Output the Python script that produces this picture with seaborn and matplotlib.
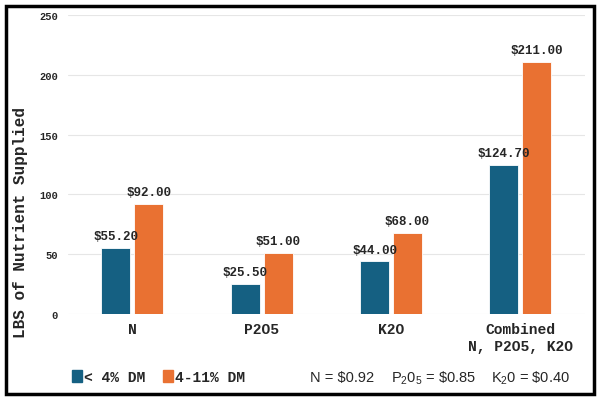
import pandas as pd
import matplotlib
matplotlib.use("Agg")
import matplotlib.pyplot as plt
import matplotlib.patches as mpatches
import seaborn as sns

# data
categories = ["N", "P2O5", "K2O", "Combined\nN, P2O5, K2O"]
series = ["< 4% DM", "4-11% DM"]
low_dm = [55.20, 25.50, 44.00, 124.70]
high_dm = [92.00, 51.00, 68.00, 211.00]
y_ticks = [0, 50, 100, 150, 200, 250]
price_note = [r"N = \$0.92", r"$\mathregular{P_20_5}$ = \$0.85", r"$\mathregular{K_20}$ = \$0.40"]

df = pd.DataFrame({
    "category": categories * 2,
    "series": [series[0]] * 4 + [series[1]] * 4,
    "lbs": low_dm + high_dm,
})

sns.set_style("white")
plt.rcParams["font.family"] = ["Liberation Mono", "DejaVu Sans Mono"]

colors = ["#156082", "#E97132"]

fig = plt.figure(figsize=(6, 4.06), dpi=100)
ax = fig.add_axes([0.113, 0.224, 0.862, 0.737])

sns.barplot(data=df, x="category", y="lbs", hue="series", palette=colors,
            saturation=1, width=0.51, gap=0.12, ax=ax, legend=False,
            edgecolor="white", linewidth=0.6)

ax.set_ylim(0, 250)
ax.set_xlim(-0.5, 3.5)
ax.set_yticks(y_ticks)
ax.yaxis.grid(True, color="#e6e6e6", linewidth=0.8)
ax.set_axisbelow(True)
for s in ax.spines.values():
    s.set_visible(False)

ax.tick_params(axis="y", length=0, labelsize=7.5, pad=7)
ax.tick_params(axis="x", length=0, labelsize=10.5, pad=6)
for lbl in ax.get_yticklabels():
    lbl.set_fontweight("bold")
for lbl in ax.get_xticklabels():
    lbl.set_fontweight("bold")

ax.set_xlabel("")
ax.set_ylabel("LBS of Nutrient Supplied", fontsize=11.5, fontweight="bold")
ax.yaxis.set_label_coords(-0.076, 0.31)

for cont, vals in zip(ax.containers, [low_dm, high_dm]):
    ax.bar_label(cont, labels=[f"${v:.2f}" for v in vals], padding=4,
                 fontsize=9, fontweight="bold")

# legend
handles = [mpatches.Patch(color=c, label=s) for c, s in zip(colors, series)]
fig.legend(handles=handles, loc="center left", bbox_to_anchor=(0.098, 0.069),
           ncol=2, frameon=False, handlelength=0.7, handleheight=0.9,
           handletextpad=0.15, columnspacing=1.2,
           prop={"family": "Liberation Mono", "weight": "bold", "size": 10.5})

note_x = [0.516, 0.652, 0.818]
for x, t in zip(note_x, price_note):
    fig.text(x, 0.069, t, fontsize=10.5, family="Liberation Sans", va="center")

# outer frame
fig.patches.append(mpatches.Rectangle((0.01, 0.027), 0.98, 0.955, transform=fig.transFigure,
                                      fill=False, edgecolor="black", linewidth=2.5))

fig.savefig("out.png", dpi=100)
